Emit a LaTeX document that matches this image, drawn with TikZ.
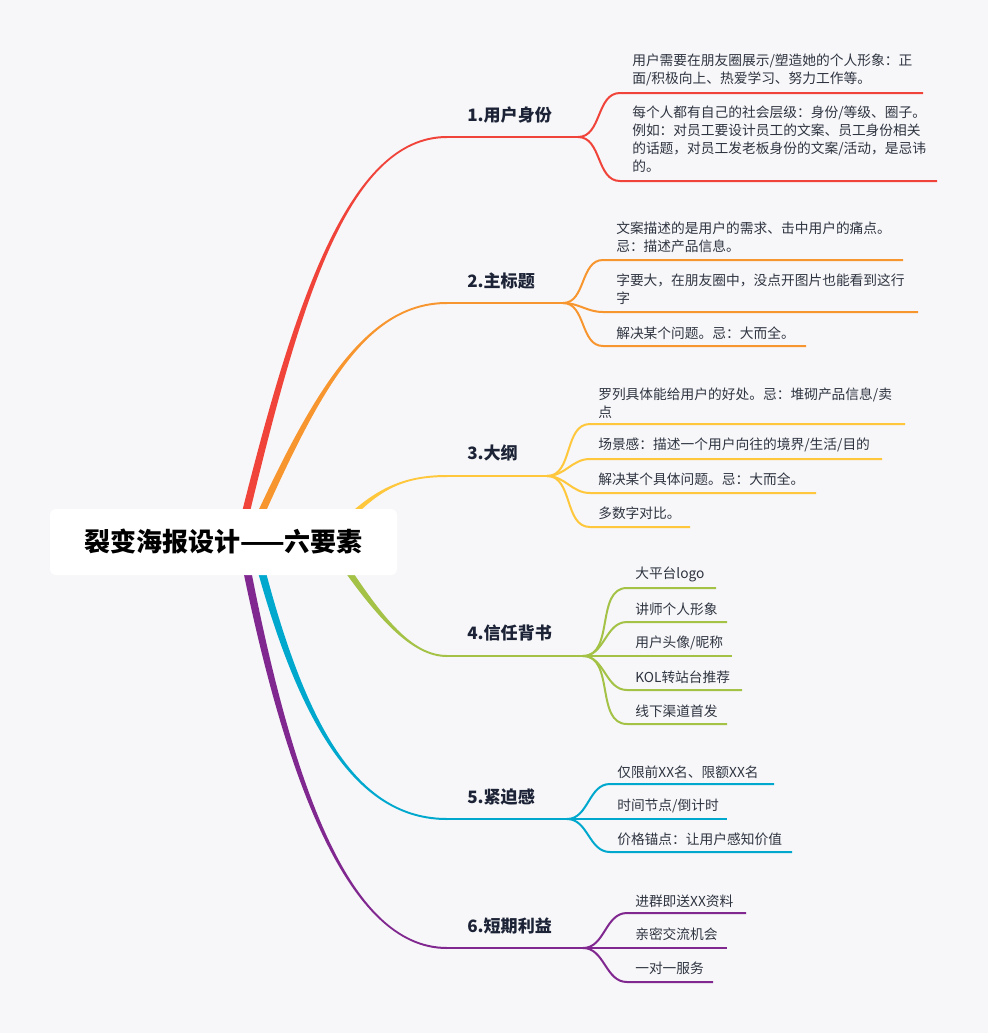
\documentclass[tikz,border=0pt]{standalone}
\usepackage{fontspec}
\setmainfont{Noto Sans CJK SC}
\usetikzlibrary{calc}

\definecolor{bgcol}{HTML}{F7F7F9}
\definecolor{redb}{HTML}{F0433A}
\definecolor{orangeb}{HTML}{F7962F}
\definecolor{yellowb}{HTML}{FEC73C}
\definecolor{greenb}{HTML}{A3C246}
\definecolor{cyanb}{HTML}{00A8CE}
\definecolor{purpleb}{HTML}{80288F}
\definecolor{topiccol}{HTML}{1C2336}
\definecolor{leafcol}{HTML}{2E3440}

\tikzset{
  leaf/.style={anchor=west, inner sep=0pt, align=left, text=leafcol,
    font=\fontsize{10.3}{13.5}\selectfont},
  topic/.style={anchor=west, inner sep=0pt, text=topiccol,
    font=\fontsize{12.8}{15}\selectfont\bfseries},
  subline/.style={line width=1.5pt},
}

% tapered main branch: colour, start, control 1, control 2, end, outer/inner end offset
\newcommand{\mainbranch}[7]{%
  \fill[#1] ($(#2)+(-4,0)$) .. controls ($(#3)+(-3,0)$) and ($(#4)+(0,#6)$) .. ($(#5)+(0,#6)$)
    -- ($(#5)+(0,#7)$) .. controls ($(#4)+(0,#7)$) and ($(#3)+(3,0)$) .. ($(#2)+(4,0)$) -- cycle;}

\begin{document}
\begin{tikzpicture}[x=0.75pt, y=-0.75pt]
   \fill[bgcol] (0,0) rectangle (988,1033);

   % root side and topic side of the six main branches
   \coordinate (s1) at (244,520); \coordinate (e1) at (447,137);
   \coordinate (s2) at (258,520); \coordinate (e2) at (447,303);
   \coordinate (s3) at (345,522); \coordinate (e3) at (447,476);
   \coordinate (s4) at (342,562); \coordinate (e4) at (447,656);
   \coordinate (s5) at (260,565); \coordinate (e5) at (447,819);
   \coordinate (s6) at (246,565); \coordinate (e6) at (447,948);

   \mainbranch{redb}{s1}{296,308}{347,137}{e1}{-1}{1}
   \mainbranch{orangeb}{s2}{318,388}{367,303}{e2}{-1}{1}
   \mainbranch{yellowb}{s3}{378,488}{405,476}{e3}{-1}{1}
   \mainbranch{greenb}{s4}{380,618}{412,656}{e4}{1}{-1}
   \mainbranch{cyanb}{s5}{303,726}{357,819}{e5}{1}{-1}
   \mainbranch{purpleb}{s6}{288,776}{347,948}{e6}{1}{-1}

   \node[fill=white, rounded corners=4.5pt, minimum width=260.25pt, minimum height=49.5pt,
     font=\fontsize{19.5}{22}\selectfont\bfseries] (root) at (223.5,542) {裂变海报设计——六要素};

   % 1
   \node[topic] (l1) at (467,115) {1.用户身份};
   \coordinate (f1) at (578,137);
   \draw[subline, redb] (e1) -- (f1);
   \node[leaf] (t11) at (632,70) {用户需要在朋友圈展示/塑造她的个人形象：正\\面/积极向上、热爱学习、努力工作等。};
   \node[leaf] (t12) at (632,139) {每个人都有自己的社会层级：身份/等级、圈子。\\例如：对员工要设计员工的文案、员工身份相关\\的话题，对员工发老板身份的文案/活动，是忌讳\\的。};
   \coordinate (u11) at (620,93);  \coordinate (v11) at (923,93);
   \coordinate (u12) at (620,181); \coordinate (v12) at (937,181);
   \draw[subline, redb] (f1) to[out=0,in=180] (u11) -- (v11);
   \draw[subline, redb] (f1) to[out=0,in=180] (u12) -- (v12);

   % 2
   \node[topic] (l2) at (467,281) {2.主标题};
   \coordinate (f2) at (563,303);
   \draw[subline, orangeb] (e2) -- (f2);
   \node[leaf] (t21) at (616,237) {文案描述的是用户的需求、击中用户的痛点。\\忌：描述产品信息。};
   \node[leaf] (t22) at (616,289) {字要大，在朋友圈中，没点开图片也能看到这行\\字};
   \node[leaf] (t23) at (616,333) {解决某个问题。忌：大而全。};
   \coordinate (u21) at (603,260); \coordinate (v21) at (903,260);
   \coordinate (u22) at (603,312); \coordinate (v22) at (918,312);
   \coordinate (u23) at (603,346); \coordinate (v23) at (806,346);
   \draw[subline, orangeb] (f2) to[out=0,in=180] (u21) -- (v21);
   \draw[subline, orangeb] (f2) to[out=0,in=180] (u22) -- (v22);
   \draw[subline, orangeb] (f2) to[out=0,in=180] (u23) -- (v23);

   % 3
   \node[topic] (l3) at (467,453) {3.大纲};
   \coordinate (f3) at (547,476);
   \draw[subline, yellowb] (e3) -- (f3);
   \node[leaf] (t31) at (598,403) {罗列具体能给用户的好处。忌：堆砌产品信息/卖\\点};
   \node[leaf] (t32) at (598,445) {场景感：描述一个用户向往的境界/生活/目的};
   \node[leaf] (t33) at (598,479) {解决某个具体问题。忌：大而全。};
   \node[leaf] (t34) at (598,513) {多数字对比。};
   \coordinate (u31) at (590,424); \coordinate (v31) at (905,424);
   \coordinate (u32) at (590,459); \coordinate (v32) at (882,459);
   \coordinate (u33) at (590,493); \coordinate (v33) at (816,493);
   \coordinate (u34) at (590,527); \coordinate (v34) at (690,527);
   \draw[subline, yellowb] (f3) to[out=0,in=180] (u31) -- (v31);
   \draw[subline, yellowb] (f3) to[out=0,in=180] (u32) -- (v32);
   \draw[subline, yellowb] (f3) to[out=0,in=180] (u33) -- (v33);
   \draw[subline, yellowb] (f3) to[out=0,in=180] (u34) -- (v34);

   % 4
   \node[topic] (l4) at (467,633) {4.信任背书};
   \coordinate (f4) at (583,656);
   \draw[subline, greenb] (e4) -- (f4);
   \node[leaf] (t41) at (635,574) {大平台logo};
   \node[leaf] (t42) at (635,609) {讲师个人形象};
   \node[leaf] (t43) at (635,643) {用户头像/昵称};
   \node[leaf] (t44) at (635,677) {KOL转站台推荐};
   \node[leaf] (t45) at (635,711) {线下渠道首发};
   \coordinate (u41) at (627,588); \coordinate (v41) at (716,588);
   \coordinate (u42) at (627,622); \coordinate (v42) at (727,622);
   \coordinate (v43) at (732,656);
   \coordinate (u44) at (627,690); \coordinate (v44) at (742,690);
   \coordinate (u45) at (627,724); \coordinate (v45) at (727,724);
   \draw[subline, greenb] (f4) to[out=0,in=180] (u41) -- (v41);
   \draw[subline, greenb] (f4) to[out=0,in=180] (u42) -- (v42);
   \draw[subline, greenb] (f4) -- (v43);
   \draw[subline, greenb] (f4) to[out=0,in=180] (u44) -- (v44);
   \draw[subline, greenb] (f4) to[out=0,in=180] (u45) -- (v45);

   % 5
   \node[topic] (l5) at (467,797) {5.紧迫感};
   \coordinate (f5) at (567,819);
   \draw[subline, cyanb] (e5) -- (f5);
   \node[leaf] (t51) at (617,772) {仅限前XX名、限额XX名};
   \node[leaf] (t52) at (617,806) {时间节点/倒计时};
   \node[leaf] (t53) at (617,839) {价格锚点：让用户感知价值};
   \coordinate (u51) at (610,784); \coordinate (v51) at (774,784);
   \coordinate (v52) at (727,819);
   \coordinate (u53) at (610,852); \coordinate (v53) at (792,852);
   \draw[subline, cyanb] (f5) to[out=0,in=180] (u51) -- (v51);
   \draw[subline, cyanb] (f5) -- (v52);
   \draw[subline, cyanb] (f5) to[out=0,in=180] (u53) -- (v53);

   % 6
   \node[topic] (l6) at (467,926) {6.短期利益};
   \coordinate (f6) at (583,948);
   \draw[subline, purpleb] (e6) -- (f6);
   \node[leaf] (t61) at (635,901) {进群即送XX资料};
   \node[leaf] (t62) at (635,934) {亲密交流机会};
   \node[leaf] (t63) at (635,968) {一对一服务};
   \coordinate (u61) at (627,913); \coordinate (v61) at (746,913);
   \coordinate (v62) at (727,948);
   \coordinate (u63) at (627,982); \coordinate (v63) at (713,982);
   \draw[subline, purpleb] (f6) to[out=0,in=180] (u61) -- (v61);
   \draw[subline, purpleb] (f6) -- (v62);
   \draw[subline, purpleb] (f6) to[out=0,in=180] (u63) -- (v63);
\end{tikzpicture}
\end{document}
